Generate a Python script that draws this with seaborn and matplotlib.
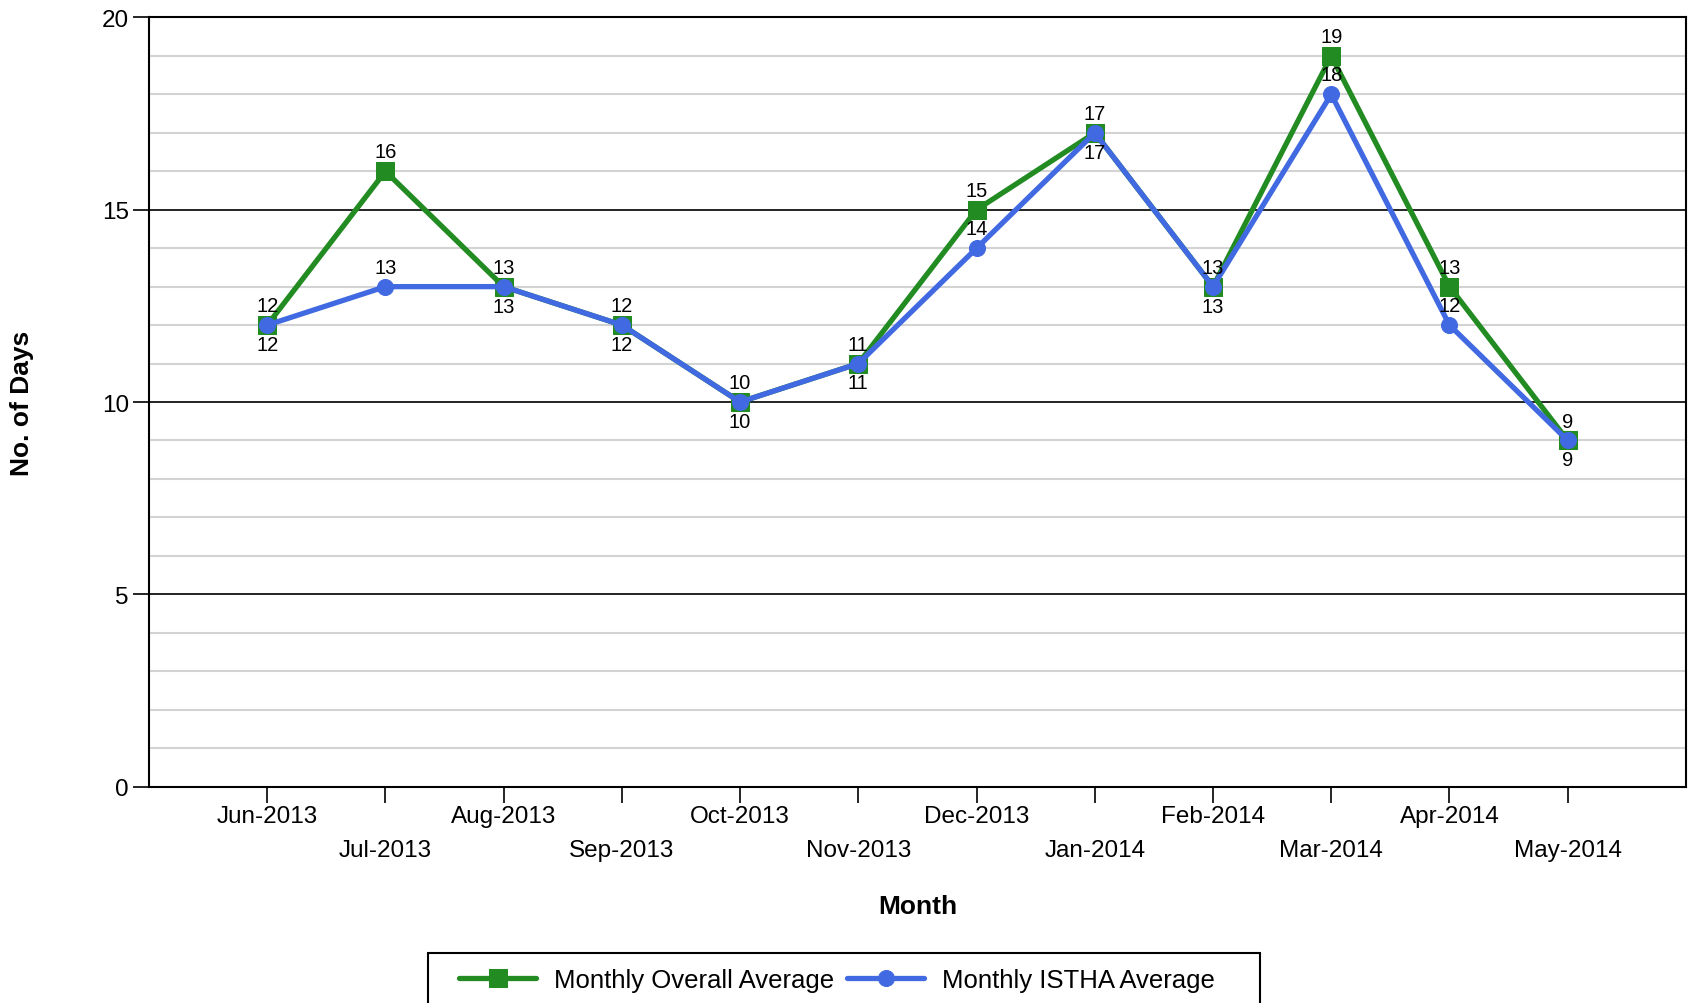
import numpy as np
import pandas as pd
import matplotlib
matplotlib.use('Agg')
import matplotlib.pyplot as plt
from matplotlib.patches import Rectangle
from matplotlib.ticker import MultipleLocator
import seaborn as sns

# Data
months = ['Jun-2013', 'Jul-2013', 'Aug-2013', 'Sep-2013', 'Oct-2013', 'Nov-2013',
          'Dec-2013', 'Jan-2014', 'Feb-2014', 'Mar-2014', 'Apr-2014', 'May-2014']
overall_avg = [12, 16, 13, 12, 10, 11, 15, 17, 13, 19, 13, 9]
istha_avg = [12, 13, 13, 12, 10, 11, 14, 17, 13, 18, 12, 9]

green = '#228B22'
blue = '#4169E1'

sns.set_style('white')
plt.rcParams['font.family'] = ['Liberation Sans', 'DejaVu Sans']
plt.rcParams['text.color'] = 'black'
plt.rcParams['axes.labelcolor'] = 'black'

df = pd.DataFrame({'pos': np.arange(len(months)), 'month': months,
                   'overall': overall_avg, 'istha': istha_avg})

fig = plt.figure(figsize=(16.91, 10.04), dpi=100)
ax = fig.add_axes([0.0881, 0.2156, 0.9089, 0.766])

sns.lineplot(data=df, x='pos', y='overall', ax=ax, color=green, lw=3.8,
             marker='s', markersize=12.5, markeredgecolor=green,
             label='Monthly Overall Average', legend=False, zorder=3)
sns.lineplot(data=df, x='pos', y='istha', ax=ax, color=blue, lw=3.8,
             marker='o', markersize=11.5, markeredgecolor=blue,
             label='Monthly ISTHA Average', legend=False, zorder=4)

# value labels: overall above, istha above unless it sits on the same value
for i, row in df.iterrows():
    ax.annotate(str(row['overall']), (row['pos'], row['overall']), xytext=(0, 14),
                textcoords='offset points', ha='center', va='center', fontsize=14.5, zorder=5)
    dy = -14 if row['istha'] == row['overall'] else 14
    ax.annotate(str(row['istha']), (row['pos'], row['istha']), xytext=(0, dy),
                textcoords='offset points', ha='center', va='center', fontsize=14.5, zorder=5)

ax.set_xlim(-1, 12)
ax.set_ylim(0, 20)
ax.set_xticks(df['pos'])
ax.set_xticklabels(months)
ax.set_yticks([0, 5, 10, 15, 20])
ax.yaxis.set_minor_locator(MultipleLocator(1))

ax.grid(which='minor', axis='y', color='#d3d3d3', lw=1.5)
ax.grid(which='major', axis='y', color='black', lw=1.2)
ax.grid(which='both', axis='x', visible=False)
ax.set_axisbelow(True)

ax.tick_params(which='major', bottom=True, left=True, direction='out', length=11.5,
               width=1.2, color='black', labelsize=17.5, labelcolor='black')
ax.tick_params(axis='y', which='major', pad=3)
ax.tick_params(which='minor', length=0)

# staggered month labels
for i, tick in enumerate(ax.xaxis.get_major_ticks()):
    tick.set_pad(2 if i % 2 == 0 else 26)

for s in ax.spines.values():
    s.set_visible(True)
    s.set_color('black')
    s.set_linewidth(1.5)

ax.set_xlabel('Month', fontsize=19, fontweight='bold')
ax.set_ylabel('No. of Days', fontsize=19, fontweight='bold')
ax.xaxis.set_label_coords(0.5, -0.155)
ax.xaxis.label.set_va('center')
ax.yaxis.set_label_coords(-0.0826, 0.5)
ax.yaxis.label.set_va('center')

handles, labels = ax.get_legend_handles_labels()
leg = fig.legend(handles, labels, loc='upper center', bbox_to_anchor=(0.495, 0.0498),
                 ncol=2, fontsize=18.5, frameon=False, borderpad=0.6, borderaxespad=0,
                 handlelength=3.0, handletextpad=0.7, columnspacing=0.5)

# legend box: wider padding on the sides than matplotlib gives, runs off the bottom
fig.canvas.draw()
bb = leg.get_window_extent()
box = Rectangle((bb.x0 - 16, bb.y0 - 30), bb.width + 16 + 30, bb.height + 30,
                transform=None, fill=False, ec='black', lw=1.5)
fig.add_artist(box)

fig.savefig('out.png', dpi=100)
